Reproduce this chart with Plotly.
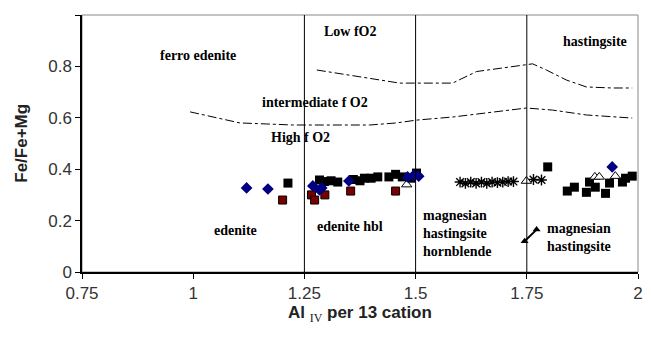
import plotly.graph_objects as go

# ---- data ----
blue_x = [1.12, 1.168, 1.269, 1.284, 1.289, 1.35, 1.482, 1.495, 1.507, 1.942]
blue_y = [0.327, 0.323, 0.335, 0.319, 0.327, 0.354, 0.37, 0.375, 0.373, 0.409]

red_x = [1.201, 1.266, 1.273, 1.296, 1.354, 1.455]
red_y = [0.28, 0.30, 0.28, 0.30, 0.315, 0.315]

black_x = [1.213, 1.284, 1.295, 1.31, 1.325, 1.36, 1.375, 1.385, 1.40, 1.415,
           1.44, 1.455, 1.47, 1.49, 1.502, 1.797, 1.841, 1.857, 1.884, 1.891,
           1.904, 1.927, 1.936, 1.965, 1.972, 1.987]
black_y = [0.346, 0.358, 0.352, 0.355, 0.35, 0.36, 0.355, 0.365, 0.365, 0.37,
           0.37, 0.38, 0.37, 0.365, 0.385, 0.409, 0.315, 0.33, 0.31, 0.35,
           0.33, 0.306, 0.346, 0.35, 0.365, 0.373]

tri_x = [1.48, 1.749, 1.903, 1.913, 1.949]
tri_y = [0.34, 0.354, 0.37, 0.37, 0.373]

star_x = [1.60, 1.612, 1.624, 1.636, 1.648, 1.66, 1.672, 1.684, 1.696, 1.708,
          1.72, 1.765, 1.783]
star_y = [0.35, 0.345, 0.35, 0.345, 0.35, 0.345, 0.35, 0.348, 0.35, 0.352,
          0.352, 0.36, 0.358]

mh_x = [1.745, 1.772]
mh_y = [0.12, 0.165]

low_x = [1.278, 1.323, 1.419, 1.464, 1.53, 1.583, 1.637, 1.695, 1.74, 1.763,
         1.794, 1.839, 1.884, 1.942, 1.987]
low_y = [0.786, 0.774, 0.747, 0.735, 0.735, 0.735, 0.78, 0.794, 0.805, 0.81,
         0.786, 0.747, 0.72, 0.716, 0.716]

mid_x = [0.993, 1.044, 1.105, 1.165, 1.224, 1.285, 1.397, 1.457, 1.502, 1.583,
         1.673, 1.749, 1.808, 1.884, 1.987]
mid_y = [0.623, 0.603, 0.58, 0.576, 0.572, 0.572, 0.572, 0.58, 0.591, 0.603,
         0.623, 0.638, 0.63, 0.611, 0.599]

boundaries = [1.25, 1.5, 1.75]

labels = [
    ("ferro edenite", 1.01, 0.844, "center"),
    ("Low fO2", 1.354, 0.934, "center"),
    ("hastingsite", 1.904, 0.895, "center"),
    ("intermediate f O2", 1.273, 0.658, "center"),
    ("High f O2", 1.242, 0.525, "center"),
    ("edenite", 1.094, 0.163, "center"),
    ("edenite hbl", 1.352, 0.179, "center"),
    ("magnesian<br>hastingsite<br>hornblende", 1.513, 0.148, "left"),
    ("magnesian<br>hastingsite", 1.792, 0.136, "left"),
]

x_ticks = [0.75, 1, 1.25, 1.5, 1.75, 2]
x_tick_text = ["0.75", "1", "1.25", "1.5", "1.75", "2"]
y_ticks = [0, 0.2, 0.4, 0.6, 0.8, 1]
y_tick_text = ["0", "0.2", "0.4", "0.6", "0.8", "1"]

# ---- figure ----
fig = go.Figure()

fig.add_trace(go.Scatter(x=low_x, y=low_y, mode="lines",
                         line=dict(color="black", width=1, dash="dashdot"),
                         hoverinfo="skip"))
fig.add_trace(go.Scatter(x=mid_x, y=mid_y, mode="lines",
                         line=dict(color="black", width=1, dash="dashdot"),
                         hoverinfo="skip"))

fig.add_trace(go.Scatter(x=black_x, y=black_y, mode="markers",
                         marker=dict(symbol="square", size=9, color="black")))
fig.add_trace(go.Scatter(x=red_x, y=red_y, mode="markers",
                         marker=dict(symbol="square", size=8, color="#7a0000",
                                     line=dict(color="black", width=1))))
fig.add_trace(go.Scatter(x=star_x, y=star_y, mode="markers",
                         marker=dict(symbol="asterisk-open", size=9, color="black",
                                     line=dict(color="black", width=1.4))))
fig.add_trace(go.Scatter(x=tri_x, y=tri_y, mode="markers",
                         marker=dict(symbol="triangle-up", size=9, color="white",
                                     line=dict(color="black", width=1))))
fig.add_trace(go.Scatter(x=blue_x, y=blue_y, mode="markers",
                         marker=dict(symbol="diamond", size=9, color="#000080")))
fig.add_trace(go.Scatter(x=mh_x, y=mh_y, mode="lines+markers",
                         line=dict(color="black", width=2),
                         marker=dict(symbol="triangle-up", size=7, color="black")))

shapes = [dict(type="rect", xref="paper", yref="paper", x0=0, x1=1, y0=0, y1=1,
               line=dict(color="#888888", width=1), layer="below")]
for b in boundaries:
    shapes.append(dict(type="line", xref="x", yref="y", x0=b, x1=b, y0=0, y1=1,
                       line=dict(color="black", width=1)))

annotations = []
for text, x, y, al in labels:
    annotations.append(dict(text="<b>" + text + "</b>", x=x, y=y, xref="x", yref="y",
                            showarrow=False, align=al,
                            xanchor="left" if al == "left" else "center",
                            font=dict(family="Liberation Serif", size=14, color="black")))

annotations.append(dict(
    text="<b>Al</b> <span style='font-family:Liberation Serif'><sub>IV</sub></span> <b>per 13 cation</b>",
    x=0.5, y=-0.214, xref="paper", yref="paper", showarrow=False,
    font=dict(family="Liberation Sans", size=17, color="#222222")))
annotations.append(dict(
    text="<b>Fe/Fe+Mg</b>", x=-0.13, y=0.5, xref="paper", yref="paper",
    showarrow=False, textangle=-90,
    font=dict(family="Liberation Sans", size=17, color="#222222")))

fig.update_layout(
    template="none",
    width=635, height=331,
    margin=dict(l=74, r=5, t=7, b=67),
    paper_bgcolor="white", plot_bgcolor="white",
    showlegend=False,
    shapes=shapes,
    annotations=annotations,
    xaxis=dict(range=[0.75, 2], tickvals=x_ticks, ticktext=x_tick_text,
               automargin=False,
               showgrid=False, zeroline=False, showline=True, linecolor="black",
               linewidth=1.5, ticks="outside", ticklen=5, tickcolor="black",
               tickfont=dict(family="Liberation Sans", size=17, color="#333333")),
    yaxis=dict(range=[0, 1], tickvals=y_ticks, ticktext=y_tick_text,
               automargin=False,
               showgrid=False, zeroline=False, showline=True, linecolor="black",
               linewidth=1.5, ticks="outside", ticklen=5, tickcolor="black",
               tickfont=dict(family="Liberation Sans", size=17, color="#333333")),
)

fig.write_html("out.html")
